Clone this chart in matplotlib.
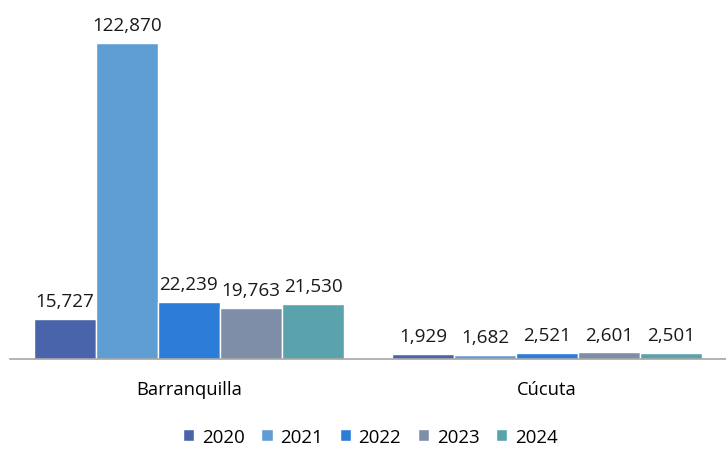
import numpy as np
import matplotlib.pyplot as plt

plt.rcParams['font.family'] = ['Open Sans', 'DejaVu Sans']

# 数据
cities = ['Barranquilla', 'Cúcuta']
years = ['2020', '2021', '2022', '2023', '2024']
values = {
    '2020': [15727, 1929],
    '2021': [122870, 1682],
    '2022': [22239, 2521],
    '2023': [19763, 2601],
    '2024': [21530, 2501],
}
colors = ['#4a64ab', '#5f9ed3', '#2b7dd8', '#7f8ea8', '#5aa3ad']

fig = plt.figure(figsize=(7.26, 4.52), dpi=100)
ax = fig.add_axes([10 / 726, 92 / 452, 716 / 726, 350 / 452])

x = np.arange(len(cities))
group_w = 0.866
w = group_w / len(years)
for i, yr in enumerate(years):
    pos = x - group_w / 2 + w * (i + 0.5)
    bars = ax.bar(pos, values[yr], width=w, color=colors[i], edgecolor='white',
                  linewidth=1, label=yr)
    for b, v in zip(bars, values[yr]):
        ax.text(b.get_x() + b.get_width() / 2, v + 3400, f'{v:,}',
                ha='center', va='bottom', fontsize=13.6, color='#1a1a1a')

ax.set_xlim(-0.5, 1.5)
ax.set_ylim(0, 136000)
ax.set_yticks([])
ax.set_xticks(x)
ax.set_xticklabels(cities, fontsize=13.2)
ax.tick_params(axis='x', length=0, pad=15)
for s in ['top', 'right', 'left']:
    ax.spines[s].set_visible(False)
ax.spines['bottom'].set_color('#a6a6a6')
ax.spines['bottom'].set_linewidth(1.2)

fig.legend(loc='center', bbox_to_anchor=(0.51, 14 / 452), ncol=5, frameon=False,
           fontsize=13.5, handlelength=0.6, handleheight=0.6, handletextpad=0.4,
           columnspacing=0.9)

plt.savefig('out.png', dpi=100)
